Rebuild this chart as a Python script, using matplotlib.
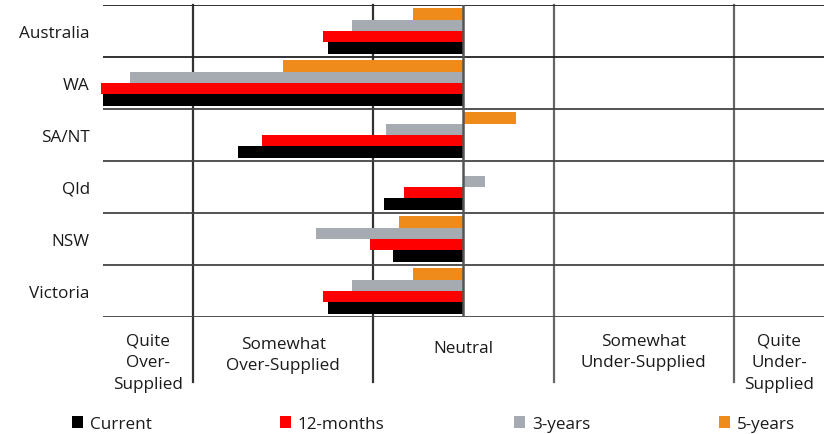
import numpy as np
import matplotlib as mpl
mpl.use('Agg')
import matplotlib.pyplot as plt
from matplotlib.patches import Patch
from matplotlib import transforms

plt.rcParams['font.family'] = ['Open Sans', 'DejaVu Sans']

######################
## data
######################

regions = ['Australia', 'WA', 'SA/NT', 'Qld', 'NSW', 'Victoria']
current = [-0.75, -2.00, -1.25, -0.44, -0.39, -0.75]
months12 = [-0.78, -2.01, -1.12, -0.33, -0.52, -0.78]
years3 = [-0.62, -1.85, -0.43, 0.12, -0.82, -0.62]
years5 = [-0.28, -1.00, 0.29, 0.0, -0.36, -0.28]

series_names = ['Current', '12-months', '3-years', '5-years']
series_colors = ['#000000', '#ff0000', '#a5abb0', '#ef8b1a']

scale_labels = ['Quite\nOver-\nSupplied', 'Somewhat\nOver-Supplied', 'Neutral',
                'Somewhat\nUnder-Supplied', 'Quite\nUnder-\nSupplied']
scale_centres = [-1.75, -1.0, 0.0, 1.0, 1.75]

######################
## setup plot
######################

fs = 12.3
txt_col = '#1a1a1a'

fig = plt.figure(figsize=(8.29, 4.35), dpi=100)
ax = fig.add_axes([103 / 829, 1 - 318 / 435, 721 / 829, 312 / 435])

y = np.arange(len(regions))
bar_h = 0.22
offsets = [0.33, 0.11, -0.11, -0.33]
for vals, off, col in zip([current, months12, years3, years5], offsets, series_colors):
    ax.barh(y + off, vals, height=bar_h, color=col, zorder=2, clip_on=False)

ax.set_xlim(-2, 2)
ax.set_ylim(len(regions) - 0.5, -0.5)

for s in ax.spines.values():
    s.set_visible(False)

# row separators
for b in np.arange(-0.5, len(regions), 1.0):
    ax.axhline(b, color='#222222' if b < 1 else '#444444', lw=1.3, zorder=3)

# neutral line stops at the plot, the band dividers run down into the labels
ax.axvline(0, color='#555555', lw=1.8, zorder=3)
for xv in [-1.5, -0.5, 0.5, 1.5]:
    ax.axvline(xv, ymin=-65 / 312, ymax=1, color='#333333' if xv < 0 else '#666666',
               lw=1.6, zorder=1, clip_on=False)

ax.set_xticks([])
ax.set_yticks(y)
ax.set_yticklabels(regions, fontsize=fs, color=txt_col)
ax.tick_params(axis='y', length=0, pad=9.5)

trans = transforms.blended_transform_factory(ax.transData, ax.transAxes)
label_y = [-0.145, -0.12, -0.1, -0.11, -0.145]
for lab, xc, ly in zip(scale_labels, scale_centres, label_y):
    ax.text(xc, ly, lab, transform=trans, ha='center', va='center',
            fontsize=fs, color=txt_col, linespacing=1.45)

## legend, one entry per slot along the bottom
legend_x = [72, 280, 514, 719]
for name, col, lx in zip(series_names, series_colors, legend_x):
    fig.legend([Patch(facecolor=col, edgecolor='none')], [name], loc='center left',
               bbox_to_anchor=(lx / 829, 1 - 425 / 435), frameon=False,
               borderaxespad=0, borderpad=0, fontsize=fs,
               handlelength=0.65, handleheight=0.65, handletextpad=0.4,
               labelcolor=txt_col)

plt.savefig('out.png', dpi=100)
